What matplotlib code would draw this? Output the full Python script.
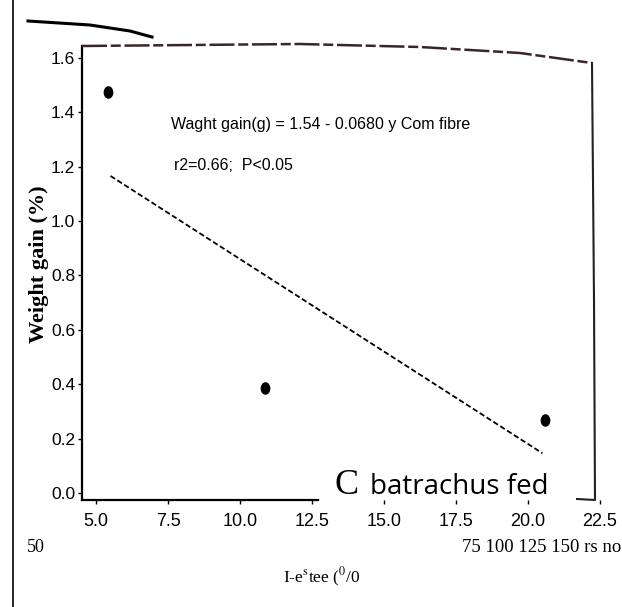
import numpy as np
import matplotlib
matplotlib.use("Agg")
import matplotlib.pyplot as plt
from matplotlib.lines import Line2D
from matplotlib.markers import MarkerStyle
from matplotlib.transforms import Affine2D

# Corn fibre level vs weight gain
fibre = [5.41, 10.88, 20.6]
gain = [1.475, 0.386, 0.268]

# fitted regression: gain = a + b * fibre
intercept = 1.54
slope = -0.068
fit_range = [5.5, 20.5]

xticks = [5.0, 7.5, 10.0, 12.5, 15.0, 17.5, 20.0, 22.5]
xticklabels = ["5.0", "7.5", "10.0", "12.5", "15.0", "17.5", "20.0", "22.5"]
yticks = [0.0, 0.2, 0.4, 0.6, 0.8, 1.0, 1.2, 1.4, 1.6]
yticklabels = ["0.0", "0.2", "0.4", "0.6", "0.8", "1.0", "1.2", "1.4", "1.6"]

W, H = 622, 607
narrow = ["Liberation Sans Narrow", "Liberation Sans", "DejaVu Sans"]
plt.rcParams["mathtext.fontset"] = "stix"


def px(x, y):
    return x / W, 1 - y / H


fig = plt.figure(figsize=(W / 100, H / 100), dpi=100)
fig.patch.set_facecolor("white")

# axes spans 4.51..22.5 on x, -0.026..1.644 on y
x0, y0 = px(82, 500)
x1, y1 = px(600, 46)
ax = fig.add_axes([x0, y0, x1 - x0, y1 - y0])
ax.set_xlim(4.51, 22.5)
ax.set_ylim(-0.026, 1.644)

oval = MarkerStyle("o", transform=Affine2D().scale(0.75, 1.0))
ax.plot(fibre, gain, ls="none", marker=oval, ms=8, color="black")

xs = np.array(fit_range)
ax.plot(xs, intercept + slope * xs, color="black", lw=1.3, ls=(0, (3, 1.5)))

ax.set_xticks(xticks)
ax.set_xticklabels(xticklabels, fontfamily=narrow, fontsize=13)
ax.set_yticks(yticks)
ax.set_yticklabels(yticklabels, fontfamily=narrow, fontsize=12.5)
ax.tick_params(direction="out", length=3, width=1, pad=2)
ax.tick_params(axis="x", pad=6)

for side in ["top", "right"]:
    ax.spines[side].set_visible(False)
ax.spines["left"].set_linewidth(1.6)
ax.spines["bottom"].set_linewidth(1.6)
ax.spines["bottom"].set_bounds(4.51, 12.7)

ax.set_ylabel("Weight gain (%)", fontfamily="Liberation Serif",
              fontweight="bold", fontsize=16)
ax.yaxis.set_label_coords(-33 / 518, 0.52)

ax.text(7.6, 1.357, "Waght gain(g) = 1.54 - 0.0680 y Com fibre",
        fontfamily=narrow, fontsize=11.5, va="center")
ax.text(7.7, 1.206, "r2=0.66;  P<0.05",
        fontfamily=narrow, fontsize=11.5, va="center")

# frame pieces around the plot
tf = fig.transFigure
top_edge = [(82, 46), (300, 44), (420, 47), (520, 53), (592, 63)]
right_edge = [(592, 63), (594, 300), (595, 500), (577, 499)]
stroke = [(28, 21), (90, 25), (130, 31), (152, 37)]
page_line = [(13, 0), (13, 607)]
for pts, lw, ls, col in [(top_edge, 1.8, (0, (10, 1.5, 4, 1.5)), "#3a2626"),
                         (right_edge, 1.5, "-", "#222222"),
                         (stroke, 2.2, "-", "black"),
                         (page_line, 1.2, "-", "black")]:
    fx, fy = zip(*[px(x, y) for x, y in pts])
    fig.add_artist(Line2D(fx, fy, transform=tf, lw=lw, ls=ls, color=col))

fig.text(*px(334, 486), "C", fontfamily="Liberation Serif", fontsize=26,
         va="center", ha="left")
fig.text(*px(370, 487), "batrachus fed", fontfamily="Open Sans", fontsize=20,
         va="center", ha="left")

fig.text(*px(27, 548), "50", fontfamily="Liberation Serif", fontsize=13,
         va="center", ha="left")
fig.text(*px(462, 548), "75 100 125 150 rs no", fontfamily="Liberation Serif",
         fontsize=13.5, va="center", ha="left")
fig.text(*px(283, 577), r"I-e$^{\mathrm{s}}$tee ($^{0}$/0",
         fontfamily="Liberation Serif", fontsize=12.5, va="center", ha="left")

fig.savefig("out.png", dpi=100, facecolor="white")
